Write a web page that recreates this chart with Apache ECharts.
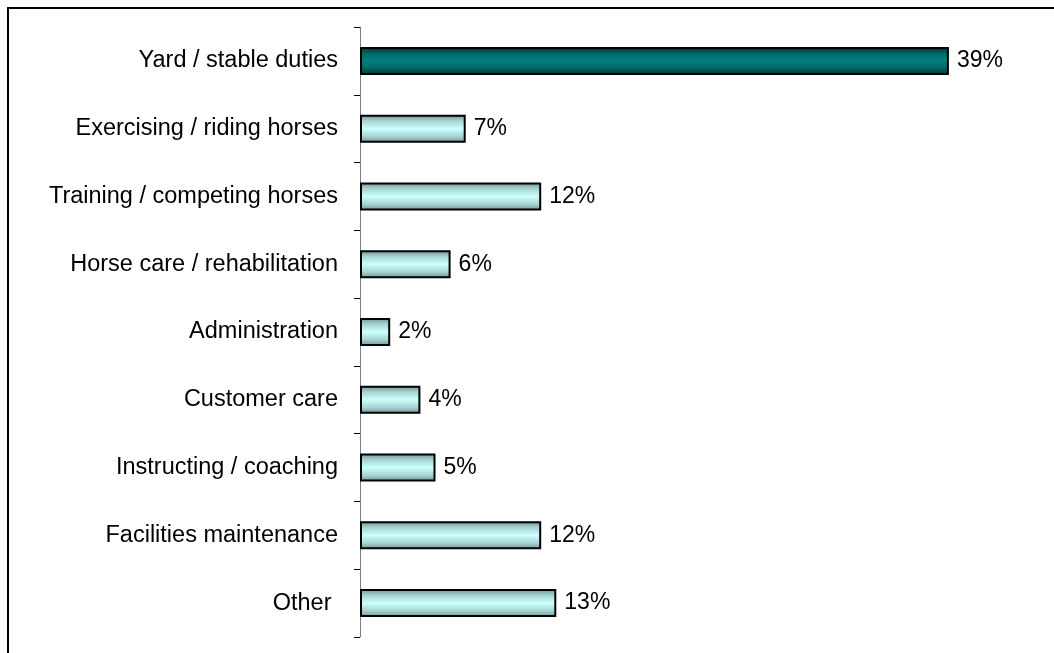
<!DOCTYPE html>
<html>
<head>
<meta charset="utf-8">
<script src="https://cdn.jsdelivr.net/npm/echarts@6/dist/echarts.min.js"></script>
<style>
  html, body { margin: 0; padding: 0; background: #ffffff; }
  #chart { width: 1054px; height: 653px; }
</style>
</head>
<body>
<div id="chart"></div>
<script>
// Main activity categories, top to bottom
const categories = [
  'Yard / stable duties',
  'Exercising / riding horses',
  'Training / competing horses',
  'Horse care / rehabilitation',
  'Administration',
  'Customer care',
  'Instructing / coaching',
  'Facilities maintenance',
  'Other '
];
// Share of respondents (%)
const shares = [39, 7, 12, 6, 2, 4, 5, 12, 13];
// Index of the highlighted category
const highlightIndex = 0;

const lightFill = {
  type: 'linear', x: 0, y: 0, x2: 0, y2: 1,
  colorStops: [
    { offset: 0, color: '#6f9090' },
    { offset: 0.22, color: '#a6d2d2' },
    { offset: 0.5, color: '#ccffff' },
    { offset: 0.78, color: '#a6d2d2' },
    { offset: 1, color: '#6f9090' }
  ]
};
const darkFill = {
  type: 'linear', x: 0, y: 0, x2: 0, y2: 1,
  colorStops: [
    { offset: 0, color: '#003434' },
    { offset: 0.25, color: '#006868' },
    { offset: 0.5, color: '#008080' },
    { offset: 0.75, color: '#006868' },
    { offset: 1, color: '#003434' }
  ]
};

const textFont = 'Liberation Sans, Arial, sans-serif';

const chart = echarts.init(document.getElementById('chart'), null, { renderer: 'canvas' });

chart.setOption({
  animation: false,
  backgroundColor: '#ffffff',
  graphic: [{
    type: 'rect',
    shape: { x: 8, y: 8, width: 1200, height: 800 },
    style: { fill: 'none', stroke: '#000000', lineWidth: 2 },
    silent: true,
    z: 100
  }],
  grid: { left: 360, right: 90, top: 27, bottom: 16, containLabel: false },
  xAxis: {
    type: 'value',
    min: 0,
    max: 40,
    show: false
  },
  yAxis: {
    type: 'category',
    data: categories,
    inverse: true,
    axisLine: { show: true, lineStyle: { color: '#808080', width: 1 } },
    axisTick: { show: true, inside: false, length: 6, alignWithLabel: false, lineStyle: { color: '#000000', width: 1 } },
    axisLabel: {
      margin: 22,
      color: '#000000',
      fontFamily: textFont,
      fontSize: 23.5
    },
    splitLine: { show: false }
  },
  series: [{
    type: 'bar',
    data: shares.map((v, i) => ({
      value: v,
      itemStyle: { color: i === highlightIndex ? darkFill : lightFill }
    })),
    barWidth: 28,
    itemStyle: { borderColor: '#000000', borderWidth: 2 },
    label: {
      show: true,
      position: 'right',
      distance: 8,
      formatter: p => p.value + '%',
      color: '#000000',
      fontFamily: textFont,
      fontSize: 23
    }
  }]
});
</script>
</body>
</html>
